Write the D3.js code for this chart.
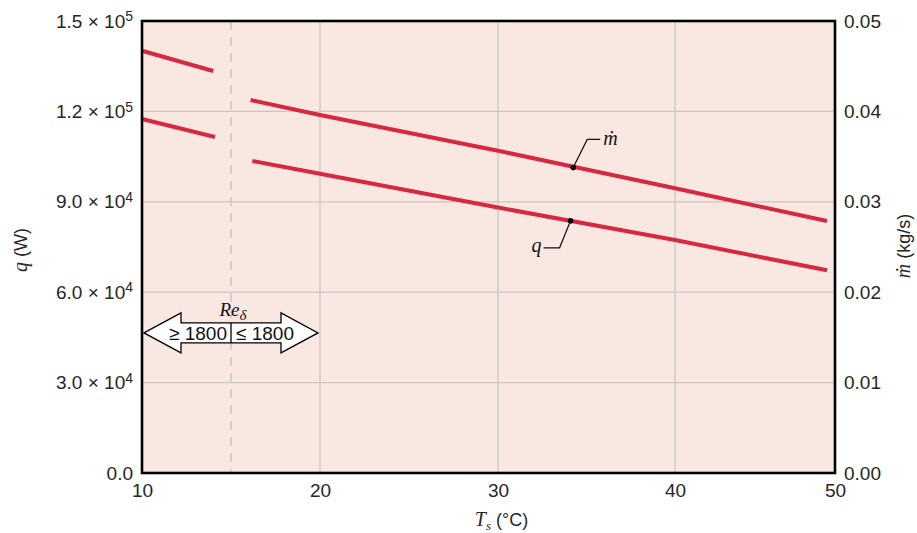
<!DOCTYPE html>
<html><head><meta charset="utf-8">
<script src="https://cdn.jsdelivr.net/npm/d3@7"></script>
<style>body{margin:0;background:#fff}</style>
</head><body><svg id="c" width="917" height="533"></svg>
<script>
// ---------- data ----------
const xTickValues = [10, 20, 30, 40, 50];
const qTickValues = [0, 3e4, 6e4, 9e4, 1.2e5, 1.5e5];
const qTickMantissa = ["0.0", "3.0", "6.0", "9.0", "1.2", "1.5"];
const qTickExponent = ["", "4", "4", "4", "5", "5"];
const mTickValues = [0, 0.01, 0.02, 0.03, 0.04, 0.05];
const mTickLabels = ["0.00", "0.01", "0.02", "0.03", "0.04", "0.05"];

// m-dot (kg/s), right axis
const tsM_low = [10, 14];
const m_low = [0.04671, 0.04447];
const tsM_high = [16.1, 20, 30, 40, 49.5];
const m_high = [0.04126, 0.0396, 0.03565, 0.03149, 0.02788];

// q (W), left axis
const tsQ_low = [10, 14.1];
const q_low = [117480, 111500];
const tsQ_high = [16.2, 20, 30, 40, 49.5];
const q_high = [103540, 99300, 88100, 77320, 67270];

const reThreshold = 15;
const reLabels = ["≥ 1800", "≤ 1800"];
const markerM = {ts: 34.25, val: 0.0338};
const markerQ = {ts: 34.1, val: 83700};

// ---------- layout ----------
const L = 142, R = 835, T = 21, B = 473;
const svg = d3.select("#c");
const x = d3.scaleLinear().domain([10, 20, 30, 40, 50]).range([L, 320, 498, 675, R]);
const yQ = d3.scaleLinear().domain([0, 1.5e5]).range([B, T]);
const yM = d3.scaleLinear().domain([0, 0.05]).range([B, T]);

const sans = "'Liberation Sans', Arial, sans-serif";
const serif = "'Liberation Serif', 'Times New Roman', serif";
const red = "#d8283f";
const grid = "#c9c6c4";
const ink = "#262626";

svg.append("rect").attr("x", L).attr("y", T).attr("width", R - L).attr("height", B - T).attr("fill", "#f9e7e1");

// gridlines
const g = svg.append("g");
g.selectAll("line.h").data(qTickValues.slice(1, -1)).join("line")
  .attr("x1", L).attr("x2", R).attr("y1", d => yQ(d)).attr("y2", d => yQ(d))
  .attr("stroke", grid).attr("stroke-width", 1.3);
g.selectAll("line.v").data(xTickValues.slice(1, -1)).join("line")
  .attr("x1", d => x(d)).attr("x2", d => x(d)).attr("y1", T).attr("y2", B)
  .attr("stroke", grid).attr("stroke-width", 1.3);
g.append("line").attr("x1", x(reThreshold)).attr("x2", x(reThreshold)).attr("y1", T).attr("y2", B)
  .attr("stroke", "#c4c0be").attr("stroke-width", 1.3).attr("stroke-dasharray", "9,7");

// lines
const lineQ = d3.line().x(d => x(d[0])).y(d => yQ(d[1]));
const lineM = d3.line().x(d => x(d[0])).y(d => yM(d[1]));
const segs = [
  [lineM, d3.zip(tsM_low, m_low)],
  [lineM, d3.zip(tsM_high, m_high)],
  [lineQ, d3.zip(tsQ_low, q_low)],
  [lineQ, d3.zip(tsQ_high, q_high)]
];
segs.forEach(([fn, d]) => {
  svg.append("path").attr("d", fn(d)).attr("fill", "none").attr("stroke", red).attr("stroke-width", 4)
    .attr("stroke-linejoin", "round");
});

// markers and leaders
function marker(px, py, pts, label, lx, ly, anchor) {
  svg.append("polyline").attr("points", [[px, py], ...pts].map(p => p.join(",")).join(" "))
    .attr("fill", "none").attr("stroke", "#111").attr("stroke-width", 1.2);
  svg.append("circle").attr("cx", px).attr("cy", py).attr("r", 2.8).attr("fill", "#000");
  svg.append("text").attr("x", lx).attr("y", ly).attr("text-anchor", anchor).attr("fill", "#111")
    .attr("font-family", serif).attr("font-style", "italic").attr("font-size", 20).text(label);
}
{
  const px = x(markerM.ts), py = yM(markerM.val);
  marker(px, py, [[px + 14, py - 28], [px + 27, py - 28]], "ṁ", px + 30, py - 22, "start");
  const qx = x(markerQ.ts), qy = yQ(markerQ.val);
  marker(qx, qy, [[qx - 11, qy + 27], [qx - 27, qy + 27]], "q", qx - 29, qy + 31, "end");
}

// frame
svg.append("rect").attr("x", L).attr("y", T).attr("width", R - L).attr("height", B - T)
  .attr("fill", "none").attr("stroke", "#000").attr("stroke-width", 2.6);

// axes
const axL = svg.append("g").attr("transform", `translate(${L},0)`)
  .call(d3.axisLeft(yQ).tickValues(qTickValues).tickSize(0).tickPadding(9).tickFormat(""));
axL.select(".domain").remove();
axL.selectAll(".tick text").each(function(d, i) {
  const t = d3.select(this).attr("font-family", sans).attr("font-size", 19).attr("fill", ink)
    .attr("dy", "0.32em");
  if (qTickExponent[i]) {
    t.append("tspan").text(qTickMantissa[i] + " × 10");
    t.append("tspan").attr("dy", "-0.45em").attr("font-size", 14).text(qTickExponent[i]);
  } else {
    t.text(qTickMantissa[i]);
  }
});

const axR = svg.append("g").attr("transform", `translate(${R},0)`)
  .call(d3.axisRight(yM).tickValues(mTickValues).tickSize(0).tickPadding(9).tickFormat((d, i) => mTickLabels[i]));
axR.select(".domain").remove();
axR.selectAll(".tick text").attr("font-family", sans).attr("font-size", 19).attr("fill", ink);

const axB = svg.append("g").attr("transform", `translate(0,${B})`)
  .call(d3.axisBottom(x).tickValues(xTickValues).tickSize(0).tickPadding(11).tickFormat(d3.format("d")));
axB.select(".domain").remove();
axB.selectAll(".tick text").attr("font-family", sans).attr("font-size", 19).attr("fill", ink);

// axis titles
const tx = svg.append("text").attr("x", (L + R) / 2 + 13).attr("y", 526).attr("text-anchor", "middle")
  .attr("font-size", 18).attr("fill", ink);
tx.append("tspan").attr("font-family", serif).attr("font-style", "italic").attr("font-size", 20).text("T");
tx.append("tspan").attr("font-family", serif).attr("font-style", "italic").attr("font-size", 13).attr("dy", 4).text("s");
tx.append("tspan").attr("font-family", sans).attr("dy", -4).text(" (°C)");

const tq = svg.append("text").attr("transform", "translate(27,250) rotate(-90)").attr("text-anchor", "middle")
  .attr("font-size", 18).attr("fill", ink);
tq.append("tspan").attr("font-family", serif).attr("font-style", "italic").attr("font-size", 20).text("q");
tq.append("tspan").attr("font-family", sans).text(" (W)");

const tm = svg.append("text").attr("transform", "translate(910,246) rotate(-90)").attr("text-anchor", "middle")
  .attr("font-size", 18).attr("fill", ink);
tm.append("tspan").attr("font-family", serif).attr("font-style", "italic").attr("font-size", 20).text("ṁ");
tm.append("tspan").attr("font-family", sans).text("  (kg/s)");

// Re annotation arrow
{
  const cx = x(reThreshold), cy = yQ(46500);
  const tip = 87, head = 37, hh = 20, bh = 10;
  const pts = [[cx - tip, cy], [cx - tip + head, cy - hh], [cx - tip + head, cy - bh], [cx + tip - head, cy - bh],
    [cx + tip - head, cy - hh], [cx + tip, cy], [cx + tip - head, cy + hh], [cx + tip - head, cy + bh],
    [cx - tip + head, cy + bh], [cx - tip + head, cy + hh]];
  svg.append("polygon").attr("points", pts.map(p => p.join(",")).join(" "))
    .attr("fill", "#fff").attr("stroke", "#000").attr("stroke-width", 1.3);
  svg.append("line").attr("x1", cx).attr("x2", cx).attr("y1", cy - bh).attr("y2", cy + bh)
    .attr("stroke", "#000").attr("stroke-width", 1.3);
  svg.append("text").attr("x", cx - 33).attr("y", cy + 7).attr("text-anchor", "middle")
    .attr("font-family", sans).attr("font-size", 19).attr("fill", "#111").text(reLabels[0]);
  svg.append("text").attr("x", cx + 34).attr("y", cy + 7).attr("text-anchor", "middle")
    .attr("font-family", sans).attr("font-size", 19).attr("fill", "#111").text(reLabels[1]);
  const re = svg.append("text").attr("x", cx + 2).attr("y", cy - 17).attr("text-anchor", "middle")
    .attr("font-family", serif).attr("font-style", "italic").attr("font-size", 19).attr("fill", "#111");
  re.append("tspan").text("Re");
  re.append("tspan").attr("dy", 4).attr("font-size", 15).text("δ");
}
</script>
</body></html>
